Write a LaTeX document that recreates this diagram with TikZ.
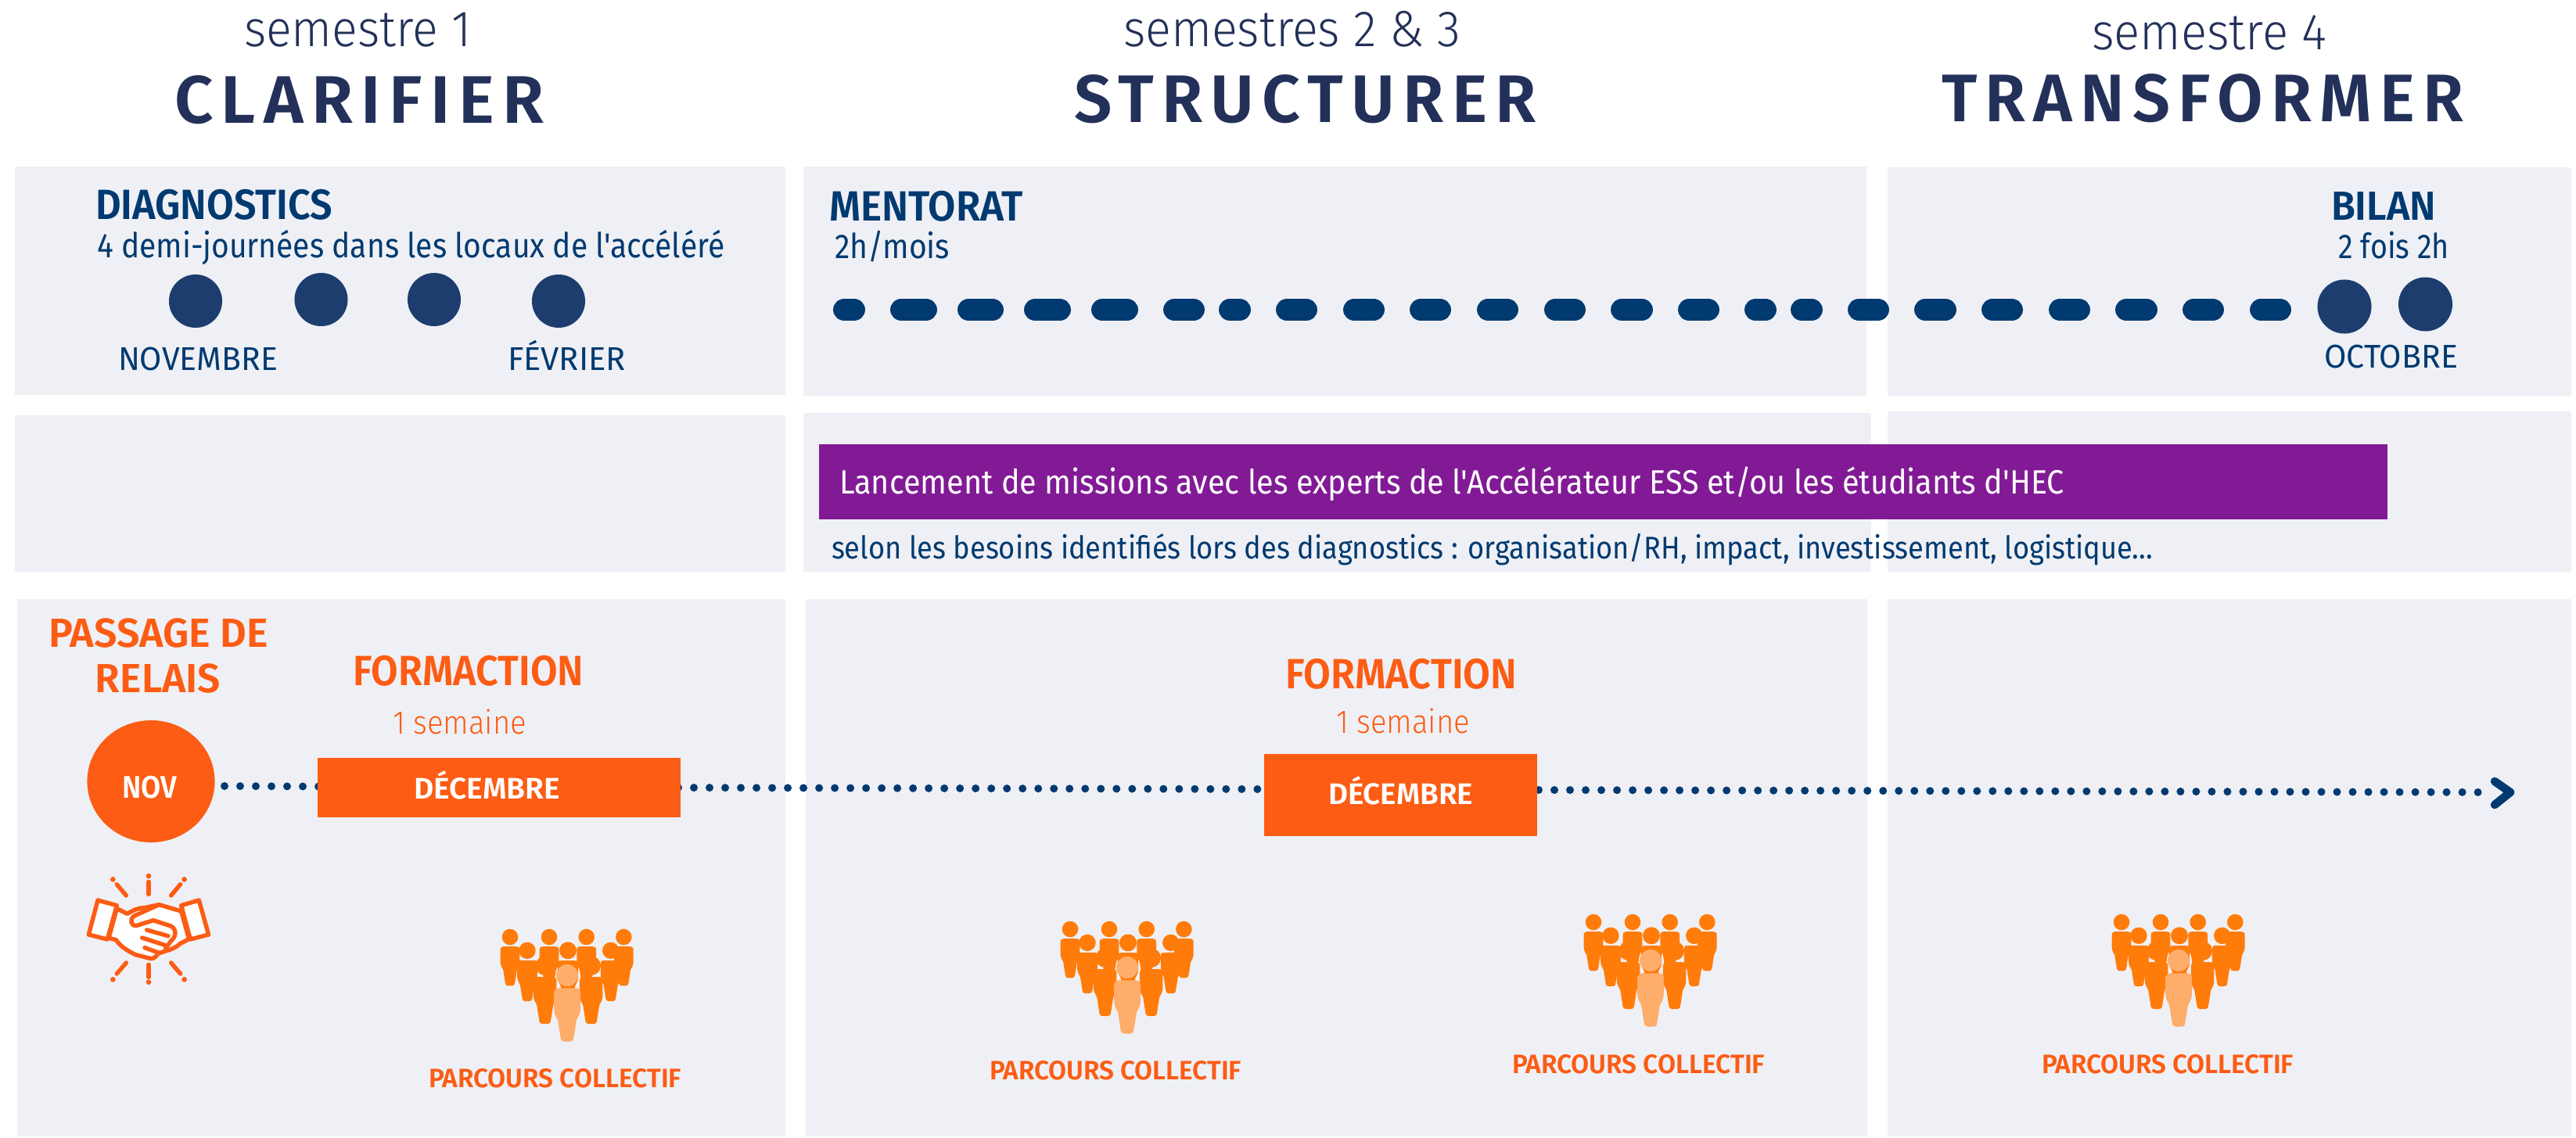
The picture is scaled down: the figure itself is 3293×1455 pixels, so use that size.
\documentclass[tikz,border=0pt]{standalone}
\usepackage{fontspec}
\usepackage{graphicx}
\usetikzlibrary{shapes.geometric}
\setmainfont{Fira Sans}
\newfontfamily\lt{Fira Sans Light}
\newfontfamily\rg{Fira Sans}
\newfontfamily\bd{Fira Sans SemiBold}
\definecolor{panel}{HTML}{EFF0F5}
\definecolor{navy}{HTML}{233059}
\definecolor{blu}{HTML}{003A70}
\definecolor{disc}{HTML}{1C3D6E}
\definecolor{org}{HTML}{FC5C14}
\definecolor{crowd}{HTML}{FF7C0A}
\definecolor{crowdl}{HTML}{FFAD6B}
\definecolor{purp}{HTML}{821A96}
\newcommand\fs[1]{\fontsize{\fpeval{(#1)*0.28453}pt}{\fpeval{(#1)*0.34}pt}\selectfont}
\newsavebox\fitbox
\newcommand\fitw[2]{\sbox\fitbox{#2}\edef\fitwd{\the\wd\fitbox}\pgfmathsetmacro\fitr{(#1)*0.284528/\fitwd}\scalebox{\fitr}[1]{\usebox\fitbox}}
% name, x0, x1, baseline, colour, text
\newcommand\T[6]{\node[anchor=base west,inner sep=0pt,outer sep=0pt,text=#5] (#1) at (#2,#4) {\fitw{#3-#2}{#6}};}
\newcommand\onePerson[4]{\begin{scope}[shift={(#1,#2)},scale=#3]
\fill[#4] (0,0) circle (1);
\fill[#4] (-1.2,1.6) .. controls (-1.2,1.25) and (-1,1.17) .. (-0.7,1.17) -- (0.7,1.17) .. controls (1,1.17) and (1.2,1.25) .. (1.2,1.6) -- (1.2,3.1) .. controls (1.2,3.5) and (1.05,3.7) .. (0.85,4.1) -- (0.6,5.7) .. controls (0.55,6) and (0.4,6.05) .. (0.25,6.05) -- (-0.25,6.05) .. controls (-0.4,6.05) and (-0.55,6) .. (-0.6,5.7) -- (-0.85,4.1) .. controls (-1.05,3.7) and (-1.2,3.5) .. (-1.2,3.1) -- cycle;
\end{scope}}
\tikzset{
 crowdpic/.pic={
  \onePerson{-73}{-49}{10.3}{crowd}\onePerson{72.3}{-49}{10.3}{crowd}
  \onePerson{-23}{-49}{10.3}{crowd}\onePerson{24.7}{-49}{10.3}{crowd}
  \onePerson{-51}{-31.7}{10.7}{crowd}\onePerson{55.7}{-31.7}{10.7}{crowd}
  \onePerson{1}{-31.7}{11}{crowd}
  \onePerson{-28.3}{-12.3}{12.3}{crowd}\onePerson{30.7}{-12.3}{12.3}{crowd}
  \onePerson{0}{0}{14}{crowdl}
 },
 dots/.style={blu,line width=2.85pt,line cap=round,dash pattern=on 0pt off 5.69pt},
 dashbar/.style={blu,line width=8.2pt,line cap=round},
 hs/.style={org,line width=1.55pt,line join=round,line cap=round},
 disc/.style={circle,fill=disc,minimum size=0.68cm,inner sep=0pt},
}
\begin{document}
\begin{tikzpicture}[x=0.01cm,y=-0.01cm]
\useasboundingbox (0,0) rectangle (3293,1455);
\fill[white] (0,0) rectangle (3293,1455);
% panels
\fill[panel] (19,213) rectangle (1004,505);
\fill[panel] (1027,213) rectangle (2386,506);
\fill[panel] (2413,214) rectangle (3287,506);
\fill[panel] (19,531) rectangle (1004,731);
\fill[panel] (1027,528) rectangle (2392,731);
\fill[panel] (2413,526) rectangle (3287,731);
\fill[panel] (22,766) rectangle (1004,1453);
\fill[panel] (1030,766) rectangle (2387,1453);
\fill[panel] (2413,766) rectangle (3287,1453);
% headers
\T{s1}{312}{602}{60}{navy}{\lt\fs{65}semestre 1}
\T{s2}{1436}{1867}{60}{navy}{\lt\fs{65}semestres 2 \& 3}
\T{s3}{2674}{2974}{64}{navy}{\lt\fs{65}semestre 4}
\T{h1}{223}{695}{158}{navy}{\bd\fs{86}\addfontfeature{LetterSpace=12}CLARIFIER}
\T{h2}{1373}{1964}{157}{navy}{\bd\fs{86}\addfontfeature{LetterSpace=12}STRUCTURER}
\T{h3}{2482}{3149}{156}{navy}{\bd\fs{86}\addfontfeature{LetterSpace=12}TRANSFORMER}
% row 1
\T{diag}{122}{425}{281}{blu}{\bd\fs{54}DIAGNOSTICS}
\T{diags}{124}{926}{330}{blu}{\rg\fs{44}4 demi-journées dans les locaux de l'accéléré}
\node[disc] (d1) at (250,385) {};
\node[disc] (d2) at (410.5,383) {};
\node[disc] (d3) at (555,383) {};
\node[disc] (d4) at (714,385) {};
\T{nov}{151}{355}{474}{blu}{\rg\fs{42}NOVEMBRE}
\T{fev}{649}{800}{474}{blu}{\rg\fs{42}FÉVRIER}
\T{ment}{1060}{1308}{283}{blu}{\bd\fs{54}MENTORAT}
\T{ments}{1067}{1214}{331}{blu}{\rg\fs{44}2h/mois}
\foreach \a/\b in {1065/1106,1138/1198,1224/1283,1309/1369,1395/1455,1487/1540,1558/1599,1631/1684,1717/1770,1802/1855,1888/1941,1974/2027,2059/2113,2145/2198,2230/2271,2289/2330,2362/2415,2447/2501,2533/2586,2619/2672,2704/2758,2790/2843,2876/2929}
 \draw[dashbar] ({\a+14.5},396) -- ({\b-14.5},396);
\T{bil}{2980}{3114}{282}{blu}{\bd\fs{52}BILAN}
\T{bils}{2989}{3131}{331}{blu}{\rg\fs{44}2 fois 2h}
\node[disc,minimum size=0.69cm] (b1) at (2997,392) {};
\node[disc,minimum size=0.69cm] (b2) at (3100.5,389) {};
\T{oct}{2971}{3142}{471}{blu}{\rg\fs{42}OCTOBRE}
% row 2
\node[fill=purp,minimum width=20.03cm,minimum height=0.96cm,inner sep=0pt] (purple) at (2049.5,616) {};
\T{mis}{1073}{2638}{631}{white}{\rg\fs{43}Lancement de missions avec les experts de l'Accélérateur ESS et/ou les étudiants d'HEC}
\T{sel}{1063}{2751}{714}{blu}{\rg\fs{40}selon les besoins identifiés lors des diagnostics : organisation/RH, impact, investissement, logistique...}
% row 3 timeline
\coordinate (la) at (287,1005);
\coordinate (lb) at (407.5,1005.6);
\coordinate (lc) at (867,1007);
\coordinate (ld) at (1607.5,1009);
\coordinate (le) at (1967,1010);
\coordinate (lf) at (3187.5,1013);
\draw[dots] (la) -- (lb);
\draw[dots] (lc) -- (ld);
\draw[dots] (le) -- (lf);
\coordinate (t1) at (3189,999);
\coordinate (t2) at (3209,1013);
\coordinate (t3) at (3189,1029);
\draw[blu,line width=3pt,line cap=round,line join=round] (t1) -- (t2) -- (t3);
\node[ellipse,fill=org,minimum width=1.63cm,minimum height=1.56cm,inner sep=0pt] (novc) at (193,999) {};
\node[fill=org,minimum width=4.64cm,minimum height=0.76cm,inner sep=0pt] (dec1) at (638,1007) {};
\node[fill=org,minimum width=3.49cm,minimum height=1.05cm,inner sep=0pt] (dec2) at (1790.5,1016.5) {};
\T{novt}{156}{226}{1020}{white}{\bd\fs{40}NOV}
\T{dect1}{529}{716}{1021}{white}{\bd\fs{38}DÉCEMBRE}
\T{dect2}{1698}{1883}{1028}{white}{\bd\fs{38}DÉCEMBRE}
\T{pas1}{62}{343}{827}{org}{\bd\fs{52}PASSAGE DE}
\T{pas2}{122}{282}{885}{org}{\bd\fs{52}RELAIS}
\T{for1}{451}{746}{876}{org}{\bd\fs{54}FORMACTION}
\T{sem1}{502}{673}{938}{org}{\lt\fs{42}1 semaine}
\T{for2}{1643}{1939}{880}{org}{\bd\fs{54}FORMACTION}
\T{sem2}{1708}{1879}{937}{org}{\lt\fs{42}1 semaine}
% crowds
\pic at (725,1247) {crowdpic};
\pic at (1441,1237) {crowdpic};
\pic at (2110,1228) {crowdpic};
\pic at (2785,1228) {crowdpic};
\T{pc1}{548}{871}{1390}{org}{\bd\fs{34}PARCOURS COLLECTIF}
\T{pc2}{1265}{1587}{1380}{org}{\bd\fs{34}PARCOURS COLLECTIF}
\T{pc3}{1933}{2256}{1372}{org}{\bd\fs{34}PARCOURS COLLECTIF}
\T{pc4}{2610}{2932}{1372}{org}{\bd\fs{34}PARCOURS COLLECTIF}
% handshake
\begin{scope}[shift={(90,1090)},scale=0.3333]
\draw[hs,fill=white] (178,215) -- (218,235) .. controls (240,222) and (260,212) .. (285,212) -- (340,200) -- (425,225) -- (455,332) -- (420,350) .. controls (400,368) and (390,370) .. (335,388) .. controls (325,408) and (310,408) .. (305,406) -- (250,392) .. controls (215,375) and (190,358) .. (175,335) -- (147,328) -- cycle;
\draw[hs] (340,200) -- (245,243) .. controls (225,255) and (232,285) .. (255,280) -- (318,260) -- (385,282) .. controls (410,295) and (405,325) .. (385,340) -- (365,368);
\draw[hs] (293,297) -- (375,320);
\draw[hs] (275,327) -- (362,355);
\draw[hs] (285,365) -- (340,385);
\draw[hs,fill=white] (105,183) -- (178,203) -- (142,333) -- (70,315) -- cycle;
\draw[hs,fill=white] (425,203) -- (493,183) -- (530,315) -- (460,333) -- cycle;
\draw[hs] (300,112) -- (300,160);
\draw[hs] (300,478) -- (300,430);
\draw[hs] (178,122) -- (214,165);
\draw[hs] (422,122) -- (386,165);
\draw[hs] (178,465) -- (214,423);
\draw[hs] (422,465) -- (386,423);
\fill[org] (300,90) circle (10);
\fill[org] (300,497) circle (10);
\fill[org] (163,103) circle (10);
\fill[org] (437,103) circle (10);
\fill[org] (163,487) circle (10);
\fill[org] (437,487) circle (10);
\end{scope}
\end{tikzpicture}
\end{document}
